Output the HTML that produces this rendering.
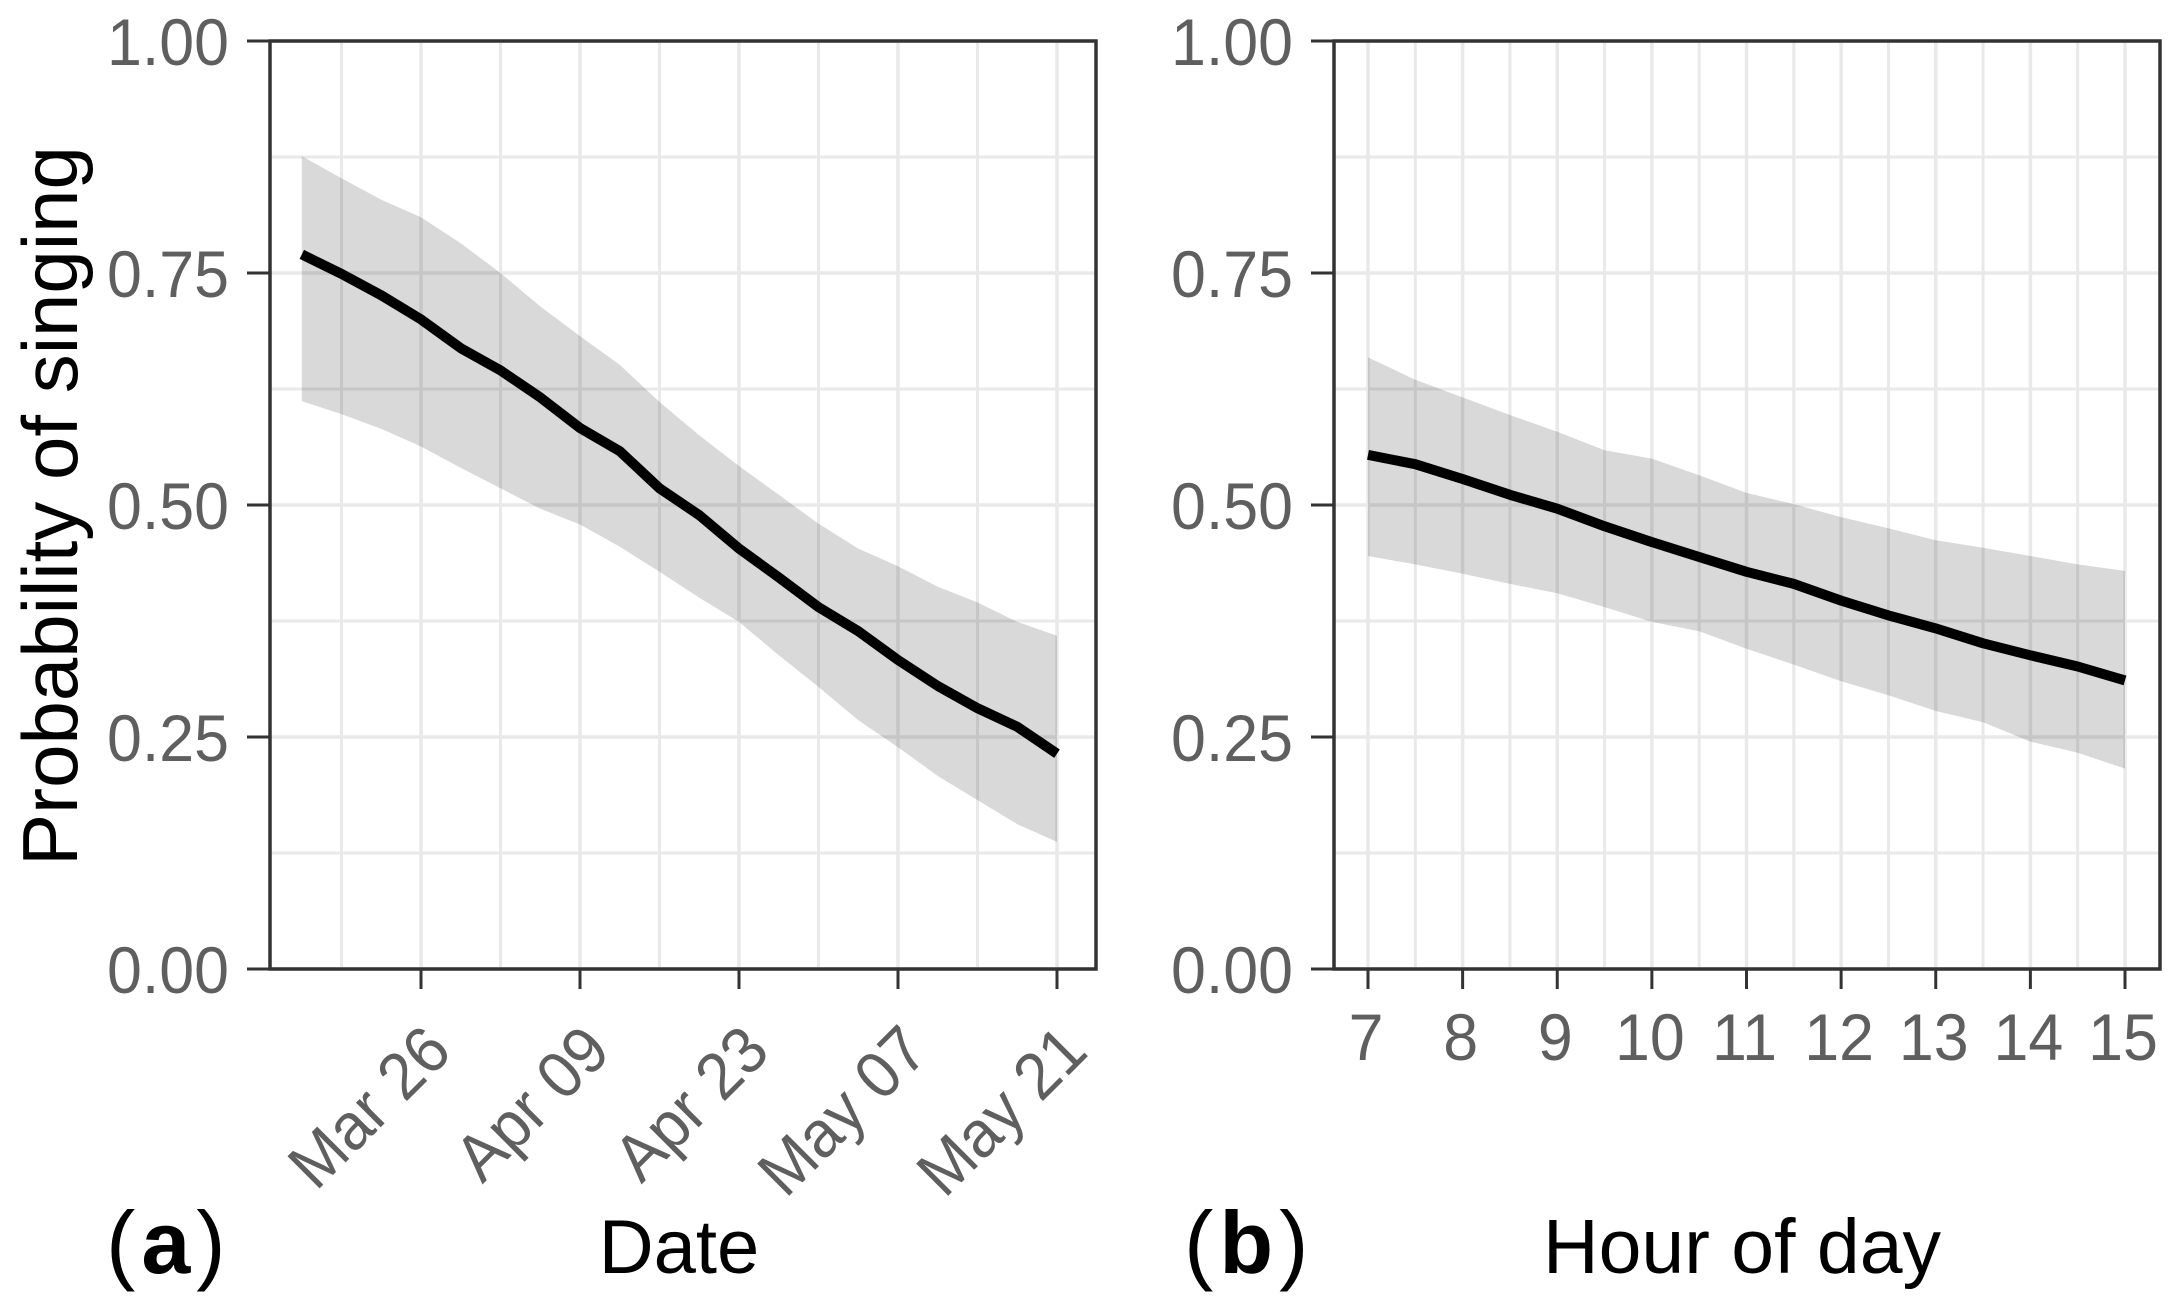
<!DOCTYPE html>
<html lang="en">
<head>
<meta charset="utf-8">
<title>Probability of singing by date and hour of day</title>
<style>
html,body{margin:0;padding:0;background:#fff;}
svg{display:block;}
text{font-family:"Liberation Sans",sans-serif;}
</style>
</head>
<body>
<svg id="figure" xmlns="http://www.w3.org/2000/svg" width="2174" height="1311" viewBox="0 0 2174 1311">
  <rect x="0" y="0" width="2174" height="1311" fill="#ffffff"/>
  <g id="panel-a"></g>
  <g id="panel-b"></g>
  <text transform="translate(77,506) rotate(-90)" text-anchor="middle" font-size="78" fill="#000">Probability of singing</text>
  <text x="679" y="1273" text-anchor="middle" font-size="76" fill="#000">Date</text>
  <text x="1742" y="1273" text-anchor="middle" font-size="77" fill="#000">Hour of day</text>
  <text x="106" y="1273" font-size="88" letter-spacing="6" fill="#000">(<tspan font-weight="bold">a</tspan>)</text>
  <text x="1184" y="1273" font-size="88" letter-spacing="6" fill="#000">(<tspan font-weight="bold">b</tspan>)</text>
</svg>
<script>
// Shared y axis
const yTickValues = [0, 0.25, 0.5, 0.75, 1];
const yTickLabels = ["0.00", "0.25", "0.50", "0.75", "1.00"];
const yMinorValues = [0.125, 0.375, 0.625, 0.875];

// Panel (a): days relative to Mar 26
const dateTickDays = [0, 14, 28, 42, 56];
const dateTickLabels = ["Mar 26", "Apr 09", "Apr 23", "May 07", "May 21"];
const dateMinorDays = [-7, 7, 21, 35, 49];
const dateDays = [-10.5, -7, -3.5, 0, 3.5, 7, 10.5, 14, 17.5, 21, 24.5, 28, 31.5, 35, 38.5, 42, 45.5, 49, 52.5, 56];
const dateFit = [0.770, 0.749, 0.726, 0.700, 0.669, 0.645, 0.616, 0.583, 0.558, 0.518, 0.489, 0.453, 0.422, 0.390, 0.364, 0.333, 0.305, 0.281, 0.261, 0.232];
const dateUpper = [0.876, 0.852, 0.829, 0.810, 0.782, 0.750, 0.714, 0.682, 0.651, 0.611, 0.575, 0.542, 0.511, 0.480, 0.453, 0.434, 0.412, 0.395, 0.374, 0.359];
const dateLower = [0.612, 0.598, 0.582, 0.563, 0.540, 0.518, 0.496, 0.479, 0.455, 0.428, 0.400, 0.374, 0.338, 0.304, 0.268, 0.239, 0.208, 0.182, 0.156, 0.137];

// Panel (b): hour of day
const hourTicks = [7, 8, 9, 10, 11, 12, 13, 14, 15];
const hourTickLabels = ["7", "8", "9", "10", "11", "12", "13", "14", "15"];
const hourMinor = [7.5, 8.5, 9.5, 10.5, 11.5, 12.5, 13.5, 14.5];
const hourValues = [7, 7.5, 8, 8.5, 9, 9.5, 10, 10.5, 11, 11.5, 12, 12.5, 13, 13.5, 14, 14.5, 15];
const hourFit = [0.554, 0.544, 0.528, 0.511, 0.496, 0.477, 0.460, 0.444, 0.428, 0.415, 0.397, 0.381, 0.367, 0.351, 0.338, 0.326, 0.311];
const hourUpper = [0.659, 0.635, 0.616, 0.597, 0.579, 0.559, 0.550, 0.532, 0.513, 0.501, 0.487, 0.475, 0.462, 0.454, 0.445, 0.436, 0.429];
const hourLower = [0.445, 0.436, 0.426, 0.415, 0.405, 0.390, 0.374, 0.364, 0.345, 0.328, 0.310, 0.295, 0.278, 0.266, 0.245, 0.233, 0.216];

const NS = "http://www.w3.org/2000/svg";
const PANEL_TOP = 41;
const PANEL_BOTTOM = 969;
const yScale = v => PANEL_BOTTOM - (PANEL_BOTTOM - PANEL_TOP) * v;
const dateScale = d => 421 + d * (636 / 56);
const hourScale = h => 1368 + (h - 7) * (757 / 8);

function make(parent, tag, attrs) {
  const el = document.createElementNS(NS, tag);
  for (const k in attrs) el.setAttribute(k, attrs[k]);
  parent.appendChild(el);
  return el;
}

function gridLine(parent, x1, y1, x2, y2, width) {
  const el = make(parent, "line", { x1, y1, x2, y2, stroke: "#e9e9e9", "stroke-width": width });
  
  
}

function tickMark(parent, x1, y1, x2, y2) {
  const el = make(parent, "line", { x1, y1, x2, y2, stroke: "#333333", "stroke-width": 3 });
  
  
}

function drawPanel(g, left, right, xScale, xs, fit, upper, lower, majorX, minorX, labels, rotated) {
  minorX.forEach(m => gridLine(g, xScale(m), PANEL_TOP, xScale(m), PANEL_BOTTOM, 3));
  majorX.forEach(m => gridLine(g, xScale(m), PANEL_TOP, xScale(m), PANEL_BOTTOM, 3.5));
  yMinorValues.forEach(v => gridLine(g, left, yScale(v), right, yScale(v), 3));
  yTickValues.forEach(v => gridLine(g, left, yScale(v), right, yScale(v), 3.5));

  const upperPts = xs.map((x, i) => xScale(x).toFixed(1) + "," + yScale(upper[i]).toFixed(1));
  const lowerPts = xs.map((x, i) => xScale(x).toFixed(1) + "," + yScale(lower[i]).toFixed(1)).reverse();
  const ribbon = make(g, "polygon", { points: upperPts.concat(lowerPts).join(" "), fill: "#000000", "fill-opacity": 0.15 });
  
  

  const linePts = xs.map((x, i) => xScale(x).toFixed(1) + "," + yScale(fit[i]).toFixed(1));
  const line = make(g, "polyline", { points: linePts.join(" "), fill: "none", stroke: "#000000", "stroke-width": 10, "stroke-linejoin": "round" });
  
  

  const border = make(g, "rect", { x: left, y: PANEL_TOP, width: right - left, height: PANEL_BOTTOM - PANEL_TOP, fill: "none", stroke: "#333333", "stroke-width": 3.5 });
  
  

  yTickValues.forEach((v, i) => {
    tickMark(g, left - 23, yScale(v), left, yScale(v));
    const t = make(g, "text", { transform: "translate(" + (left - 41) + "," + (yScale(v) + 24) + ") scale(0.95,1)", "text-anchor": "end", "font-size": 66, fill: "#5f5f5f" });
    
    
    t.textContent = yTickLabels[i];
  });

  majorX.forEach((m, i) => {
    const x = xScale(m);
    tickMark(g, x, PANEL_BOTTOM, x, PANEL_BOTTOM + 20);
    const tf = rotated
      ? "translate(" + (x + 33) + ",1054) rotate(-45) scale(0.95,1)"
      : "translate(" + (x - 2) + ",1060) scale(0.95,1)";
    const t = make(g, "text", { transform: tf, "text-anchor": rotated ? "end" : "middle", "font-size": 66, fill: "#5f5f5f" });
    
    
    t.textContent = labels[i];
  });
}

drawPanel(document.getElementById("panel-a"), 270, 1096, dateScale, dateDays, dateFit, dateUpper, dateLower, dateTickDays, dateMinorDays, dateTickLabels, true);
drawPanel(document.getElementById("panel-b"), 1334, 2160, hourScale, hourValues, hourFit, hourUpper, hourLower, hourTicks, hourMinor, hourTickLabels, false);
</script>
</body>
</html>
